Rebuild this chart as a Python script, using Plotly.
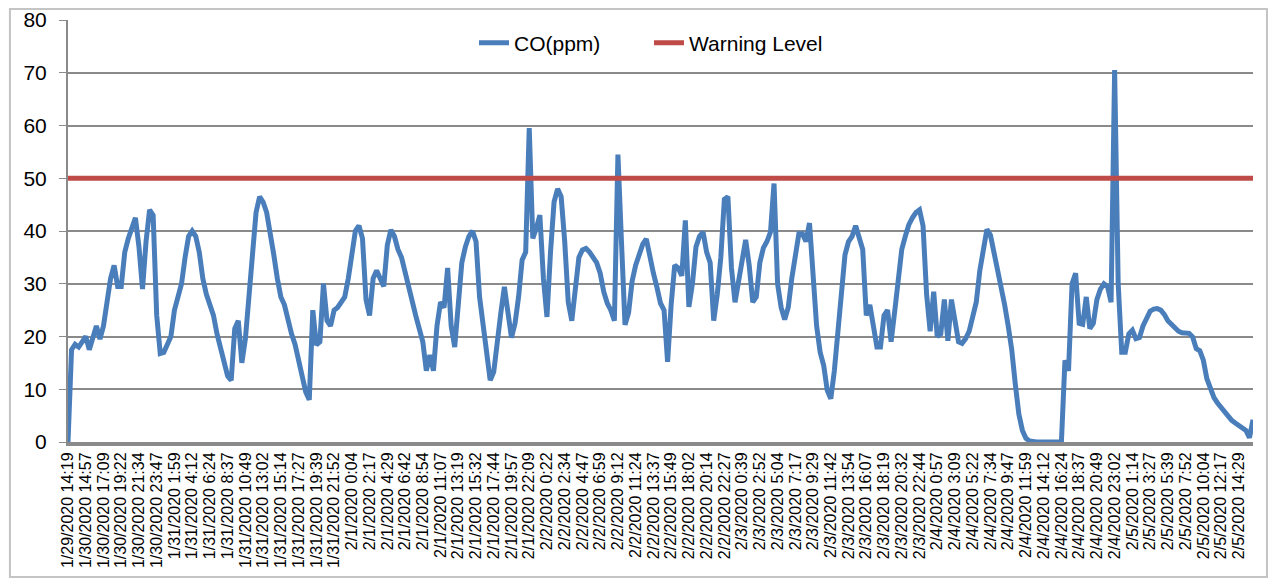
import plotly.graph_objects as go

# tick labels shown under the x axis (one every 5 samples)
tick_labels = [
    "1/29/2020 14:19",
    "1/30/2020 14:57", "1/30/2020 17:09", "1/30/2020 19:22", "1/30/2020 21:34", "1/30/2020 23:47",
    "1/31/2020 1:59", "1/31/2020 4:12", "1/31/2020 6:24", "1/31/2020 8:37", "1/31/2020 10:49",
    "1/31/2020 13:02", "1/31/2020 15:14", "1/31/2020 17:27", "1/31/2020 19:39", "1/31/2020 21:52",
    "2/1/2020 0:04", "2/1/2020 2:17", "2/1/2020 4:29", "2/1/2020 6:42", "2/1/2020 8:54",
    "2/1/2020 11:07", "2/1/2020 13:19", "2/1/2020 15:32", "2/1/2020 17:44", "2/1/2020 19:57",
    "2/1/2020 22:09",
    "2/2/2020 0:22", "2/2/2020 2:34", "2/2/2020 4:47", "2/2/2020 6:59", "2/2/2020 9:12",
    "2/2/2020 11:24", "2/2/2020 13:37", "2/2/2020 15:49", "2/2/2020 18:02", "2/2/2020 20:14",
    "2/2/2020 22:27",
    "2/3/2020 0:39", "2/3/2020 2:52", "2/3/2020 5:04", "2/3/2020 7:17", "2/3/2020 9:29",
    "2/3/2020 11:42", "2/3/2020 13:54", "2/3/2020 16:07", "2/3/2020 18:19", "2/3/2020 20:32",
    "2/3/2020 22:44",
    "2/4/2020 0:57", "2/4/2020 3:09", "2/4/2020 5:22", "2/4/2020 7:34", "2/4/2020 9:47",
    "2/4/2020 11:59", "2/4/2020 14:12", "2/4/2020 16:24", "2/4/2020 18:37", "2/4/2020 20:49",
    "2/4/2020 23:02",
    "2/5/2020 1:14", "2/5/2020 3:27", "2/5/2020 5:39", "2/5/2020 7:52", "2/5/2020 10:04",
    "2/5/2020 12:17", "2/5/2020 14:29",
]
samples_per_tick = 5

# CO readings (ppm), 5 samples per tick interval
co_ppm = [
    0, 17.5, 18.5, 18, 19,
    20, 17.5, 20, 22, 19.5,
    22, 26.5, 31, 33.5, 29.5,
    29.5, 36, 38.6, 40.5, 42.5,
    37, 29, 38, 44, 43,
    24, 16.8, 17, 18.5, 20,
    25, 27.5, 30, 35, 39,
    40, 39, 36, 31, 28,
    26, 24, 20.5, 17.5, 14.5,
    12.5, 11.7, 21.5, 23, 15,
    19.6, 27, 35, 43.5, 46.5,
    45.5, 43.5, 40, 35.5, 31,
    27.5, 26, 23, 20.5, 18.5,
    15.5, 11.5, 9.5, 8, 25,
    18.4, 19, 30, 23, 22,
    25, 25.5, 26.5, 27.5, 31,
    35.5, 40, 41, 38.6, 27,
    24, 31, 32.5, 31, 29.5,
    37.3, 40.2, 39, 36.5, 35,
    32, 29, 26, 24, 21.5,
    19, 13.5, 16.5, 13.5, 22,
    26.5, 25.5, 33, 22, 18,
    27.5, 34, 37, 39, 40,
    38, 27.5, 22, 16.5, 11.7,
    13.3, 20, 24.5, 29.4, 24,
    19.8, 22.5, 27.5, 34.5, 36,
    59.5, 38.6, 40.5, 43, 31,
    23.7, 36, 45.5, 48, 46.5,
    38, 26.5, 23, 29.5, 35,
    36.4, 36.7, 36, 35, 34,
    32, 28.5, 26.3, 25, 23,
    54.5, 38, 22.2, 24.5, 30.5,
    33.5, 35.2, 37.5, 38.5, 34.8,
    32, 29.3, 26.3, 25, 15.2,
    26, 33.5, 33, 31.5, 42,
    25.6, 30, 37, 39, 39.8,
    36, 34, 23, 28, 35,
    46, 46.5, 33, 26.5, 30.5,
    35.5, 38.3, 33.5, 26.5, 27.5,
    34, 36.8, 38, 39.8, 49,
    30, 25.5, 23.2, 25.5, 31,
    36, 39.5, 39.5, 38, 41.5,
    31, 22, 17, 14.5, 9.8,
    8.2, 13.5, 20.5, 27, 35.5,
    38, 39, 41, 39, 36.5,
    24, 26, 22, 18, 18,
    24, 25, 19, 24.7, 31.5,
    36.5, 39, 41.2, 42.5, 43.5,
    44, 41, 28, 21, 28.5,
    20, 20.5, 27, 19.2, 27,
    23, 19, 18.7, 19.6, 21,
    24, 26.5, 32.5, 36, 40.3,
    39.2, 36, 32.5, 29, 26,
    22, 17.5, 11, 5.3, 2.2,
    0.7, 0.2, 0, 0, 0,
    0, 0, 0, 0, 0,
    0, 15.5, 13.5, 30, 32,
    22.5, 22.3, 27.5, 21.5, 22.5,
    27, 29, 30, 29.5, 26.5,
    70.5, 30, 17, 17, 20.5,
    21.2, 19.6, 19.8, 22, 23.5,
    24.8, 25.2, 25.3, 25, 24.2,
    23, 22.3, 21.7, 21, 20.7,
    20.6, 20.6, 19.9, 17.7, 17.3,
    15.5, 12, 9.8, 8.4, 7.4,
    6.6, 5.6, 4.7, 4.1, 3.6,
    3.2, 2.7, 2.2, 0.8, 4.2,
]
warning_level = 50

x = list(range(len(co_ppm)))
font = "Liberation Sans, Arial, sans-serif"

fig = go.Figure()
fig.add_trace(go.Scatter(x=x, y=co_ppm, mode="lines", name="CO(ppm)",
                         line=dict(color="#4A7EBB", width=5)))
fig.add_trace(go.Scatter(x=x, y=[warning_level] * len(x), mode="lines",
                         name="Warning Level",
                         line=dict(color="#BE4B48", width=5)))

fig.update_xaxes(range=[0, len(co_ppm) - 1],
                 tickvals=x[::samples_per_tick][:len(tick_labels)],
                 ticktext=tick_labels, tickangle=-90,
                 tickfont=dict(size=16, color="black"),
                 showgrid=False, zeroline=False, automargin=False,
                 showline=True, linecolor="#8a8a8a", linewidth=4)
fig.update_yaxes(range=[0, 80], dtick=10,
                 tickfont=dict(size=21, color="black"),
                 showgrid=True, gridcolor="#8a8a8a", gridwidth=1.5,
                 zeroline=False, showline=True, linecolor="#8a8a8a", linewidth=2,
                 ticks="outside", ticklen=7, tickcolor="#8a8a8a",
                 ticklabelstandoff=8, automargin=False)

# light frame round the whole chart
fig.add_shape(type="rect", xref="paper", yref="paper",
              x0=-0.049, x1=1.0118, y0=-0.32, y1=1.026,
              line=dict(color="#c4c4c4", width=2))

fig.update_layout(
    width=1274, height=584,
    margin=dict(l=68, r=21, t=20, b=142),
    paper_bgcolor="white", plot_bgcolor="white",
    font=dict(family=font, color="black"),
    legend=dict(orientation="h", x=(474 - 68) / 1185, xanchor="left",
                y=0.9455, yanchor="middle", entrywidth=130,
                font=dict(size=21), bgcolor="rgba(0,0,0,0)"),
)

fig.write_html("out.html", config={"displayModeBar": False},
               post_script="document.body.style.margin='0';")
